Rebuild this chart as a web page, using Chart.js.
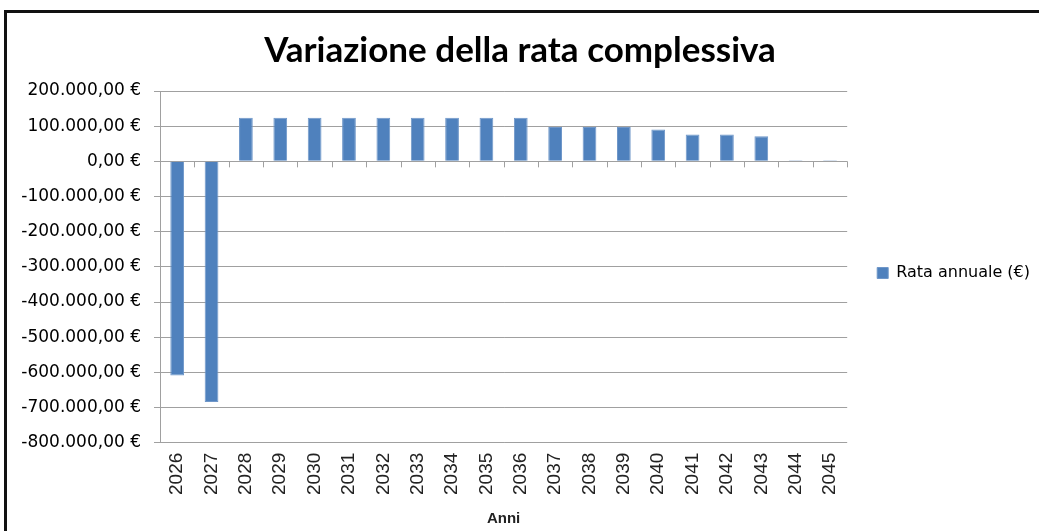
<!DOCTYPE html>
<html>
<head>
<meta charset="utf-8">
<script src="https://cdn.jsdelivr.net/npm/chart.js@4/dist/chart.umd.min.js"></script>
<style>
  html, body { margin: 0; padding: 0; background: #fff; }
  #frame { position: absolute; left: 4px; top: 10px; width: 1100px; height: 600px;
           border-left: 3px solid #111; border-top: 3px solid #111; }
  #chart { position: absolute; left: 0; top: 0; }
</style>
</head>
<body>
<div id="frame"></div>
<canvas id="chart" width="1039" height="531"></canvas>
<script>
const years = ["2026", "2027", "2028", "2029", "2030", "2031", "2032", "2033", "2034", "2035",
  "2036", "2037", "2038", "2039", "2040", "2041", "2042", "2043", "2044", "2045"];
const rataAnnuale = [-609000, -684000, 124000, 124000, 124000, 124000, 124000, 124000, 124000, 124000,
  124000, 98000, 98000, 98000, 90500, 76000, 76000, 71500, 3000, 3000];
const seriesLabel = "Rata annuale (€)";
const chartTitle = "Variazione della rata complessiva";
const axisTitle = "Anni";

function euro(v) {
  const neg = v < 0;
  let s = Math.abs(v).toFixed(0).replace(/\B(?=(\d{3})+(?!\d))/g, ".");
  return (neg ? "-" : "") + s + ",00 €";
}

// small tick marks on the zero line between categories
const zeroTicks = {
  id: "zeroTicks",
  afterDatasetsDraw(chart) {
    const { ctx, scales: { x, y } } = chart;
    const y0 = y.getPixelForValue(0);
    const half = (x.getPixelForValue(1) - x.getPixelForValue(0)) / 2;
    ctx.save();
    ctx.strokeStyle = "#a0a0a0";
    ctx.lineWidth = 1;
    for (let i = 1; i <= years.length; i++) {
      const px = Math.round(x.getPixelForValue(i) - half) + 0.5;
      ctx.beginPath();
      ctx.moveTo(px, y0);
      ctx.lineTo(px, y0 + 6);
      ctx.stroke();
    }
    ctx.restore();
  }
};

new Chart(document.getElementById("chart").getContext("2d"), {
  type: "bar",
  data: {
    labels: years,
    datasets: [{
      label: seriesLabel,
      data: rataAnnuale,
      backgroundColor: "#4F81BD",
      borderColor: "#6f97c9",
      borderWidth: 1,
      barPercentage: 0.8,
      categoryPercentage: 0.5
    }]
  },
  options: {
    responsive: false,
    animation: false,
    layout: { padding: { left: 0, right: -1, top: 18, bottom: 3 } },
    plugins: {
      title: {
        display: true,
        text: chartTitle,
        color: "#000",
        font: { family: "Lato", size: 35, weight: "bold" },
        padding: { top: 12, bottom: 19 }
      },
      legend: {
        position: "right",
        labels: {
          color: "#000",
          boxWidth: 11,
          boxHeight: 11,
          padding: 30,
          font: { family: "DejaVu Sans", size: 16 }
        }
      },
      tooltip: { enabled: false }
    },
    scales: {
      x: {
        grid: { display: false },
        border: { display: false },
        ticks: {
          color: "#222",
          minRotation: 90,
          maxRotation: 90,
          padding: 2,
          font: { family: "Liberation Sans", size: 19 }
        },
        title: {
          display: true,
          text: axisTitle,
          color: "#222",
          padding: { top: 13, bottom: 0 },
          font: { family: "Liberation Sans", size: 15, weight: "bold" }
        }
      },
      y: {
        min: -800000,
        max: 200000,
        afterFit(s) { s.width = 160; },
        grid: { color: "#a0a0a0", tickLength: 6 },
        border: { color: "#a0a0a0" },
        ticks: {
          stepSize: 100000,
          color: "#000",
          padding: 13,
          font: { family: "DejaVu Sans", size: 17 },
          callback: v => euro(v)
        }
      }
    }
  },
  plugins: [zeroTicks]
});
</script>
</body>
</html>
